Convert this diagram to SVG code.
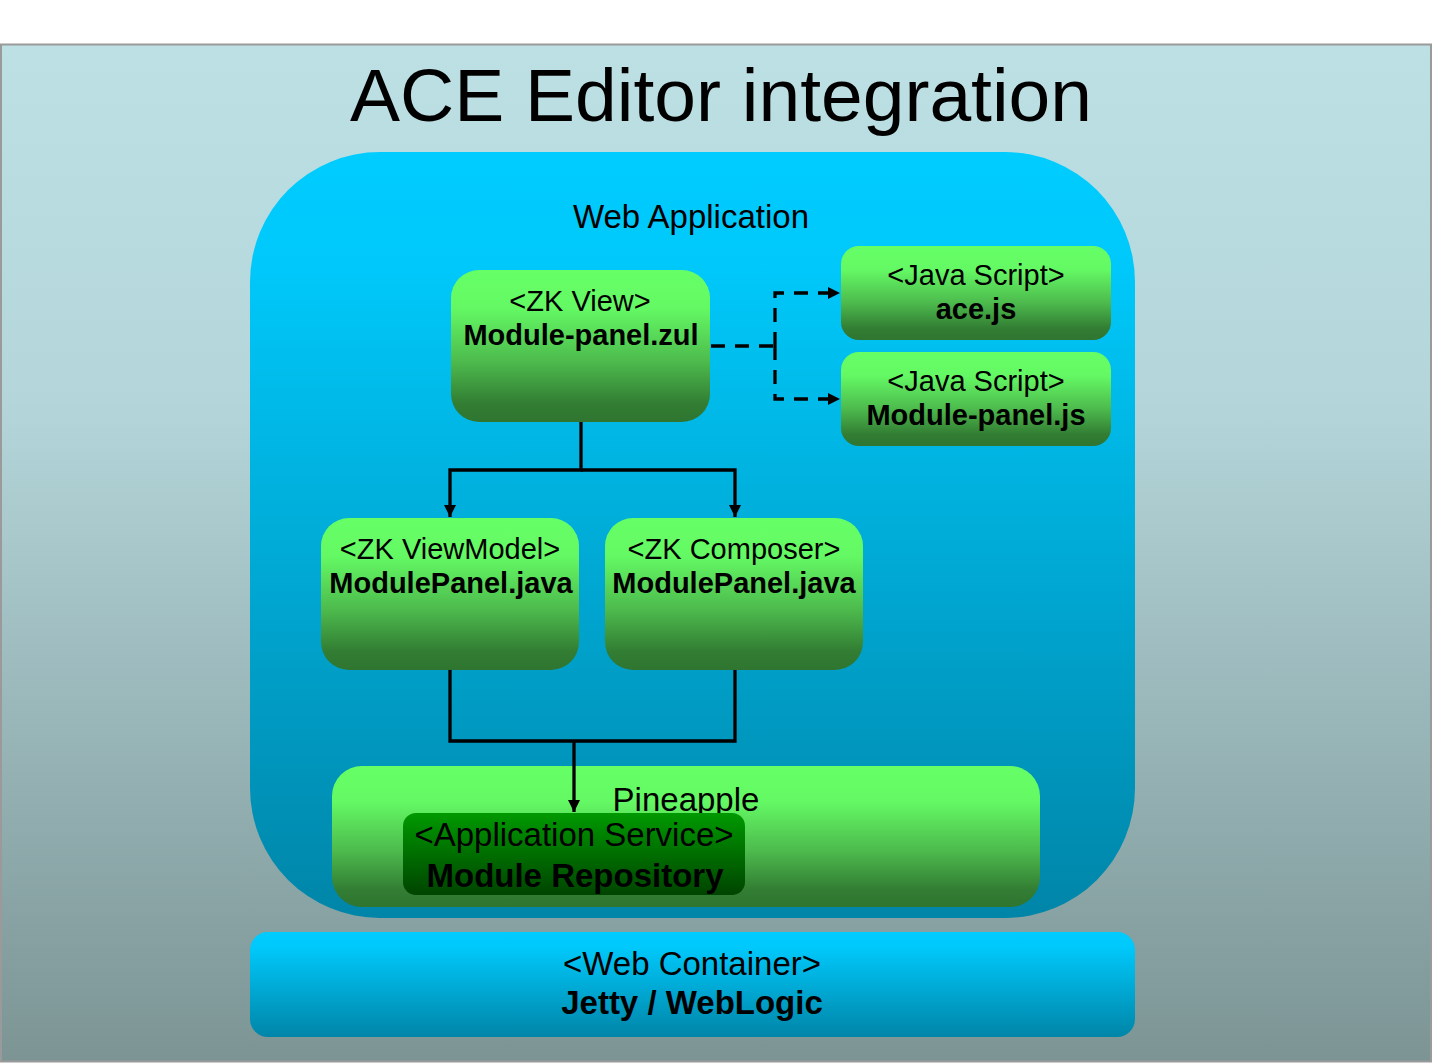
<svg xmlns="http://www.w3.org/2000/svg" width="1432" height="1063" viewBox="0 0 1432 1063">
<defs>
<linearGradient id="bg" x1="0" y1="0" x2="0" y2="1">
<stop offset="0" stop-color="#BCE0E4"/>
<stop offset="0.35" stop-color="#B4D6DA"/>
<stop offset="1" stop-color="#7C9494"/>
</linearGradient>
<linearGradient id="blue" x1="0" y1="0" x2="0" y2="1">
<stop offset="0" stop-color="#00CCFF"/>
<stop offset="0.15" stop-color="#00C8FA"/>
<stop offset="1" stop-color="#0085A8"/>
</linearGradient>
<linearGradient id="green" x1="0" y1="0" x2="0" y2="1">
<stop offset="0" stop-color="#66FF66"/>
<stop offset="0.25" stop-color="#64F964"/>
<stop offset="0.6" stop-color="#4DBB4D"/>
<stop offset="0.88" stop-color="#327D33"/>
<stop offset="1" stop-color="#2F7530"/>
</linearGradient>
<linearGradient id="dgreen" x1="0" y1="0" x2="0" y2="1">
<stop offset="0" stop-color="#009900"/>
<stop offset="1" stop-color="#004400"/>
</linearGradient>
<marker id="arr" viewBox="0 0 12 12" refX="12" refY="6" markerWidth="12" markerHeight="12" markerUnits="userSpaceOnUse" orient="auto">
<path d="M0,0 L12,6 L0,12 z" fill="#000"/>
</marker>
<style>
text{font-family:"Liberation Sans",Arial,sans-serif;fill:#000;text-anchor:middle}
.n{font-size:29px}
.b{font-size:29px;font-weight:bold}
.l{font-size:33px}
.lb{font-size:33px;font-weight:bold}
.g{fill:url(#green)}
.line{fill:none;stroke:#000;stroke-width:3.3}
.dash{fill:none;stroke:#000;stroke-width:3.3;stroke-dasharray:14 10}
</style>
</defs>
<rect x="1" y="44.5" width="1430" height="1017" fill="url(#bg)" stroke="#9A9A9A" stroke-width="2"/>
<text x="721" y="121" style="font-size:75px">ACE Editor integration</text>
<g id="web-application">
<rect x="250" y="152" width="885" height="766" rx="130" ry="130" fill="url(#blue)"/>
<text class="l" x="691" y="228">Web Application</text>
</g>
<g id="web-container">
<rect x="250" y="932" width="885" height="105" rx="18" ry="18" fill="url(#blue)"/>
<text class="l" x="692" y="975">&lt;Web Container&gt;</text>
<text class="lb" x="692" y="1014">Jetty / WebLogic</text>
</g>
<g id="zk-view">
<rect class="g" x="451" y="270" width="259" height="152" rx="28" ry="28"/>
<text class="n" x="580" y="311">&lt;ZK View&gt;</text>
<text class="b" x="581" y="345">Module-panel.zul</text>
</g>
<g id="ace-js">
<rect class="g" x="841" y="246" width="270" height="94" rx="18" ry="18"/>
<text class="n" x="976" y="285">&lt;Java Script&gt;</text>
<text class="b" x="976" y="319">ace.js</text>
</g>
<g id="module-panel-js">
<rect class="g" x="841" y="352" width="270" height="94" rx="18" ry="18"/>
<text class="n" x="976" y="391">&lt;Java Script&gt;</text>
<text class="b" x="976" y="425">Module-panel.js</text>
</g>
<g id="zk-viewmodel">
<rect class="g" x="321" y="518" width="258" height="152" rx="28" ry="28"/>
<text class="n" x="450" y="559">&lt;ZK ViewModel&gt;</text>
<text class="b" x="451" y="593">ModulePanel.java</text>
</g>
<g id="zk-composer">
<rect class="g" x="605" y="518" width="258" height="152" rx="28" ry="28"/>
<text class="n" x="734" y="559">&lt;ZK Composer&gt;</text>
<text class="b" x="734" y="593">ModulePanel.java</text>
</g>
<g id="pineapple">
<rect class="g" x="332" y="766" width="708" height="141" rx="30" ry="30"/>
<text class="l" x="686" y="811">Pineapple</text>
</g>
<g id="module-repository">
<rect x="403" y="813" width="342" height="82" rx="13" ry="13" fill="url(#dgreen)"/>
<text class="l" x="574" y="846">&lt;Application Service&gt;</text>
<text class="lb" x="575" y="887">Module Repository</text>
</g>
<g id="connectors">
<path class="line" d="M581,422 V470 H450 V517" marker-end="url(#arr)"/>
<path class="line" d="M581,470 H735 V517" marker-end="url(#arr)"/>
<path class="line" d="M450,670 V741 H735 V670"/>
<path class="line" d="M574,741 V812" marker-end="url(#arr)"/>
<path class="dash" d="M711,346 H775"/>
<path class="dash" d="M775,346 V293 H840" marker-end="url(#arr)"/>
<path class="dash" d="M775,346 V399 H840" marker-end="url(#arr)"/>
</g>
</svg>
